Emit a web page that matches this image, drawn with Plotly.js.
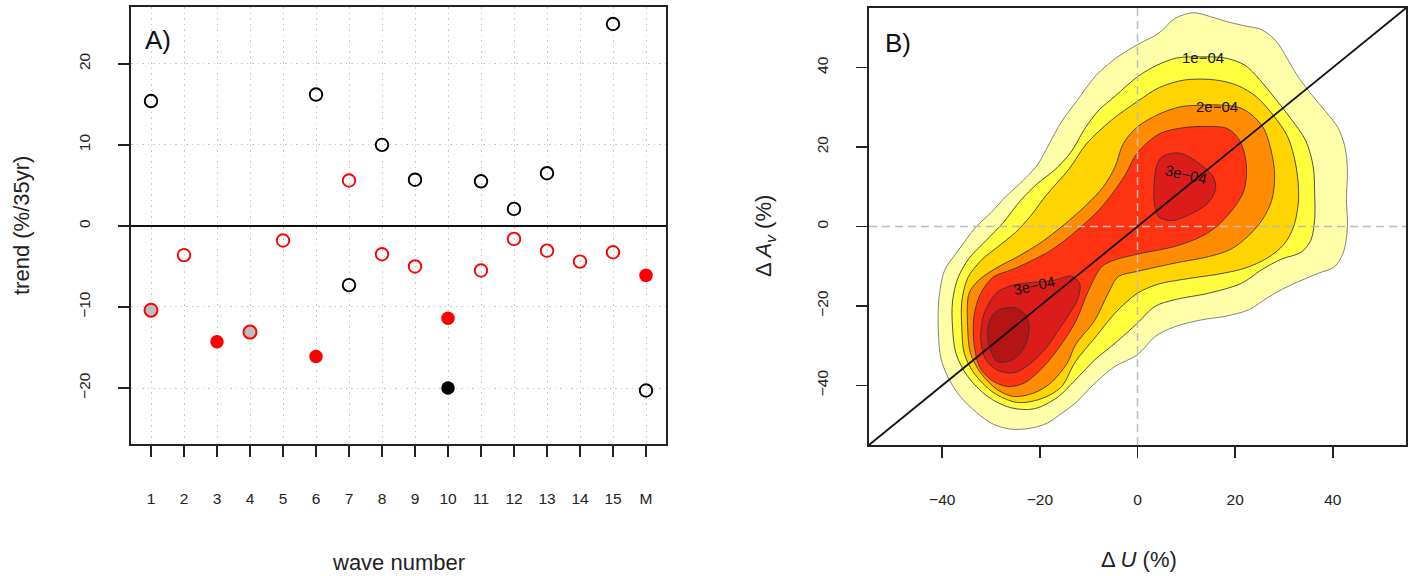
<!DOCTYPE html>
<html><head><meta charset="utf-8">
<script src="https://cdn.plot.ly/plotly-3.0.1.min.js"></script>
<style>html,body{margin:0;padding:0;background:#fff}#chart{width:1411px;height:576px}</style>
</head><body><div id="chart"></div>
<script>
// ---------- Panel A data ----------
const waves = ['1','2','3','4','5','6','7','8','9','10','11','12','13','14','15','M'];
const blackTrend = [15.4,null,null,null,null,16.2,-7.3,10.0,5.7,-20.0,5.5,2.1,6.5,null,24.9,-20.3];
const blackSignif = ['no',null,null,null,null,'no','no','no','no','yes','no','no','no',null,'no','no'];
const redTrend = [-10.4,-3.6,-14.3,-13.1,-1.8,-16.1,5.6,-3.5,-5.0,-11.4,-5.5,-1.6,-3.05,-4.4,-3.25,-6.1];
const redSignif = ['weak','no','yes','weak','no','yes','no','no','no','yes','no','no','no','no','no','yes'];
const yTicksA = [-20,-10,0,10,20];

// ---------- Panel B data (density contours, levels in 1e-4 units) ----------
const levelsB = [0.5,1.0,1.5,2.0,2.5,3.0,3.5];
const c05_x = [-39.5,-37,-33,-30,-27,-23.5,-20.5,-18,-15.5,-12.5,-8.5,-4.5,0,4.3,7.7,11.5,15,18.5,22,25.5,28.5,30.8,33,35.8,38.5,41,42.5,43,42.8,43,42.3,40.5,37,33.5,29.5,26.8,22.7,18,13.1,7.7,3.6,0,-4.6,-8.7,-12.6,-15.5,-18.5,-22,-26,-29.5,-33,-36.5,-38.8,-40.3,-40.8,-40.7];
const c05_y = [-11,-6.5,0,3.5,7.5,11.5,15.5,21,26.5,31.5,38,42.3,45.8,48.6,52.4,53.8,52.8,51.5,50.5,49.5,46.5,42,37.5,33,29,25,20,14,7,0,-6,-10,-11.8,-13.6,-15.9,-17.8,-21,-22.6,-23.5,-25.2,-27.7,-32.3,-35.2,-39.4,-44.3,-47,-49.5,-50.8,-51,-49.8,-46.8,-42.5,-38,-33,-26,-18.5];
const c10_x = [-36.8,-34.5,-31,-27.5,-24,-20.5,-17,-13.7,-10.6,-7.9,-4.6,0,4,8,13,18,22,25,28,31.5,34.5,36,36.3,36.3,35.5,33.5,29.5,25.4,21.3,14.5,7.7,3.6,0,-4.6,-8.7,-12.7,-16.4,-21.2,-26,-30.7,-34.8,-37.2,-37.9,-37.9];
const c10_y = [-13,-8,-3.5,1,6.5,10.8,14.2,18.6,25,29.3,32.8,37.7,40.6,42.4,42.7,42.4,40.6,37,32.5,27,21.5,15,8,2,-3.5,-6.5,-8.2,-10.9,-14.3,-16.8,-18.4,-20.1,-24.3,-29.4,-33.5,-38.6,-43,-45.9,-45.6,-42.8,-37.7,-31.9,-25.2,-19];
const c15_x = [-34.8,-32,-28.5,-25,-22,-18.6,-14,-10.4,-5.3,0,4.5,9.7,15.9,20.5,24.4,27.8,30.8,32.5,33,32,30,26.5,22,16.5,11,4.3,0,-4.6,-8.7,-12.7,-15.7,-19.8,-24.6,-29.4,-33.5,-35.5,-36,-36];
const c15_y = [-13,-8.5,-5,-1.5,2.5,8,14.5,20.9,26.8,31.5,35,36.9,36.9,35.5,32.6,28,22.5,15,7,0,-4.5,-8,-10.5,-12,-13,-14.5,-16.8,-21.8,-28,-34,-40.5,-43.4,-44.3,-41.9,-36.9,-31.9,-25.2,-19];
const c20_x = [-32.5,-29,-24.4,-19.5,-15,-10.4,-7,-4.6,-2.9,0,4.6,8.7,12,16.5,20.7,23,25.8,27.3,28.1,27.5,25.5,22.5,19,14.5,7.7,0,-3.9,-6,-8.7,-12.7,-14.4,-17.8,-21.2,-25.3,-28.7,-32.1,-34.2,-34.8,-34.5];
const c20_y = [-13.5,-10.5,-7.5,-3.8,0.5,5.5,10,15,20.9,25.1,28.4,30.1,30.5,30.6,30,28.5,24.8,19.5,13,6.6,1.6,-2.6,-5.8,-7.6,-9.2,-11.3,-12.6,-16.8,-23.5,-29.8,-34.4,-39.4,-41.9,-42.8,-41.1,-36.9,-31.9,-25.2,-16.8];
const c25_x = [-29.4,-26,-22,-18,-15,-11.5,-8,-5,-2.5,0,4.6,9,14,18.5,21,22.3,21.8,19.5,16.2,13.1,7.7,1,-4.6,-7.3,-10,-12.7,-16.4,-19.8,-23.2,-26.6,-30,-32.4,-33.5,-33.5,-32.1];
const c25_y = [-12.6,-11,-8.8,-6.2,-3.6,0,4,8.5,13,18.6,23.4,24.8,25.2,24.6,21.5,15.5,9,4.3,0,-2.5,-5,-6.7,-8.4,-10.1,-16,-24,-31,-36,-39.4,-40.3,-38.6,-35.2,-29.4,-22.6,-16.8];
const c30a_x = [-28.6,-25.7,-21,-17,-13.5,-11.8,-12.3,-13.7,-15.7,-18.5,-21.9,-25.3,-28.7,-31.1,-32.1,-31.6,-30];
const c30a_y = [-16.4,-14.8,-14,-13.5,-12.5,-14.5,-18.5,-21.5,-25.2,-30.2,-34.5,-36.8,-36.2,-33.5,-28.5,-22.6,-18.4];
const c30b_x = [5,8.5,12.5,15.5,16,14.5,11.5,7,4.3,3.4,3.5,4];
const c30b_y = [17.5,18.5,16,12.5,9.5,6,3.5,1.5,2.5,6.5,12,15.5];
const c35_x = [-28,-25,-22.8,-22.2,-23,-25.5,-28.7,-30.4,-30.6,-29.5];
const c35_y = [-20.8,-20.5,-22.5,-25.5,-30,-33.5,-34,-30,-25.2,-22];
const labelText = ['1e\u221204','2e\u221204','3e\u221204','3e\u221204'];
const labelX = [13.5,16.3,10.0,-21.3];
const labelY = [42.6,30.3,13.2,-14.8];
const ticksB = [-40,-20,0,20,40];
const rangeB = [-55,55];

// ---------- styling ----------
const W = 1411, H = 576;
const FONT = 'Liberation Sans, Arial, Helvetica, sans-serif';
const fillCols = ['#FFFFAA','#FFFF40','#FFD400','#FF8C00','#FF3311','#DC1B1B','#B51414'];

function closeArr(a){ return a.concat([a[0]]); }

const traces = [];
function markerStyle(color, sig){
  if (sig === 'yes') return {symbol:'circle', size:13.5, color:color, line:{width:0}};
  if (sig === 'weak') return {symbol:'circle', size:13, color:'#BEBEBE', line:{width:2, color:color}};
  return {symbol:'circle-open', size:12.5, color:color, line:{width:1.9}};
}
function addSeries(vals, sigs, color){
  ['no','weak','yes'].forEach(s => {
    const xs = [], ys = [];
    vals.forEach((v,i) => { if (v !== null && sigs[i] === s){ xs.push(waves[i]); ys.push(v); } });
    if (xs.length) traces.push({type:'scatter', mode:'markers', x:xs, y:ys, xaxis:'x', yaxis:'y',
      marker: markerStyle(color, s), hoverinfo:'skip', showlegend:false, cliponaxis:false});
  });
}
addSeries(redTrend, redSignif, '#FF0000');
addSeries(blackTrend, blackSignif, '#000000');

const polys = [[c05_x,c05_y],[c10_x,c10_y],[c15_x,c15_y],[c20_x,c20_y],[c25_x,c25_y],[c30a_x,c30a_y],[c30b_x,c30b_y],[c35_x,c35_y]];
const polyLevelIdx = [0,1,2,3,4,5,5,6];
polys.forEach((p,k) => {
  const li = polyLevelIdx[k];
  traces.push({type:'scatter', mode:'lines', x:closeArr(p[0]), y:closeArr(p[1]), xaxis:'x2', yaxis:'y2',
    fill:'toself', fillcolor: fillCols[li],
    line:{color: li===0 ? '#6e6e6e' : '#333333', width:0.85, shape:'spline', smoothing:0.9},
    hoverinfo:'skip', showlegend:false});
});

const axCommon = {ticks:'outside', ticklen:11, tickwidth:1.6, tickcolor:'#222', showline:true, linewidth:1.8,
  linecolor:'#222', mirror:true, tickfont:{family:FONT, size:15.5, color:'#222'}, automargin:false, fixedrange:true};

const layout = {
  width:W, height:H, margin:{l:0,r:0,t:0,b:0}, paper_bgcolor:'#fff', plot_bgcolor:'#fff',
  font:{family:FONT, color:'#222'}, showlegend:false,
  xaxis: Object.assign({}, axCommon, {domain:[131/W, 666/W], anchor:'y', type:'category',
    categoryorder:'array', categoryarray:waves, range:[-0.606, 15.606],
    showgrid:true, gridcolor:'#C4C4C4', gridwidth:1, griddash:'1.5px,4px', zeroline:false, ticklabelstandoff:29}),
  yaxis: Object.assign({}, axCommon, {domain:[1-444/H, 1-7/H], anchor:'x', range:[-26.9,27.0], tickvals:yTicksA,
    showgrid:true, gridcolor:'#C4C4C4', gridwidth:1, griddash:'1.5px,4px',
    zeroline:true, zerolinecolor:'#111', zerolinewidth:1.6, tickangle:-90, ticklabelstandoff:22}),
  xaxis2: Object.assign({}, axCommon, {domain:[869/W, 1406/W], anchor:'y2', range:rangeB, tickvals:ticksB,
    showgrid:false, zeroline:false, ticklabelstandoff:29}),
  yaxis2: Object.assign({}, axCommon, {domain:[1-445/H, 1-8/H], anchor:'x2', range:rangeB, tickvals:ticksB,
    showgrid:false, zeroline:false, tickangle:-90, ticklabelstandoff:22}),
  shapes: [
    {type:'line', xref:'x2', yref:'y2 domain', x0:0, x1:0, y0:0, y1:1, line:{color:'#BDBDBD', width:1.5, dash:'8px,5px'}, layer:'above'},
    {type:'line', xref:'x2 domain', yref:'y2', x0:0, x1:1, y0:0, y1:0, line:{color:'#BDBDBD', width:1.5, dash:'8px,5px'}, layer:'above'},
    {type:'line', xref:'x2', yref:'y2', x0:rangeB[0], y0:rangeB[0], x1:rangeB[1], y1:rangeB[1], line:{color:'#111', width:1.8}, layer:'above'}
  ],
  annotations: [
    {xref:'x domain', yref:'y domain', x:0.05, y:0.924, xanchor:'center', yanchor:'middle', text:'A)', showarrow:false, font:{family:FONT, size:26, color:'#111'}},
    {xref:'x2 domain', yref:'y2 domain', x:0.054, y:0.92, xanchor:'center', yanchor:'middle', text:'B)', showarrow:false, font:{family:FONT, size:26, color:'#111'}},
    {xref:'paper', yref:'paper', x:21/W, y:1-226/H, xanchor:'center', yanchor:'middle', text:'trend (%/35yr)', textangle:-90, showarrow:false, font:{family:FONT, size:22, color:'#222'}},
    {xref:'paper', yref:'paper', x:398.5/W, y:1-562/H, xanchor:'center', yanchor:'middle', text:'wave number', showarrow:false, font:{family:FONT, size:22, color:'#222'}},
    {xref:'paper', yref:'paper', x:1139/W, y:1-559/H, xanchor:'center', yanchor:'middle', text:'\u0394 <i>U</i> (%)', showarrow:false, font:{family:FONT, size:22, color:'#222'}},
    {xref:'paper', yref:'paper', x:765/W, y:1-236/H, xanchor:'center', yanchor:'middle', text:'\u0394 <i>A</i><sub><i>v</i></sub> (%)', textangle:-90, showarrow:false, font:{family:FONT, size:22, color:'#222'}}
  ]
};
const labelAngles = [0,0,13,-12];
labelText.forEach((t,i) => layout.annotations.push({xref:'x2', yref:'y2', x:labelX[i], y:labelY[i], text:t,
  xanchor:'center', yanchor:'middle', textangle:labelAngles[i], showarrow:false, font:{family:FONT, size:15, color:'#111'}}));

Plotly.newPlot('chart', traces, layout, {displayModeBar:false, staticPlot:true});
</script></body></html>
